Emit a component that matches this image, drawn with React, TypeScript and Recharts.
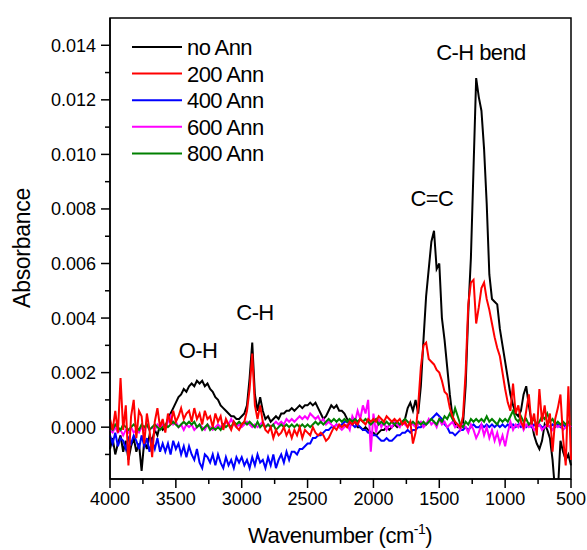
import React from 'react';
import { LineChart, Line, XAxis, YAxis, ReferenceArea } from 'recharts';

// wavenumber grid (cm-1), 4000 -> 500
const wavenumbers = [
  4000, 3980, 3960, 3940, 3920, 3900, 3880, 3860, 3840, 3820,
  3800, 3780, 3760, 3740, 3720, 3700, 3680, 3660, 3640, 3620,
  3600, 3580, 3560, 3540, 3520, 3500, 3480, 3460, 3440, 3420,
  3400, 3380, 3360, 3340, 3320, 3300, 3280, 3260, 3240, 3220,
  3200, 3180, 3160, 3140, 3120, 3100, 3080, 3060, 3040, 3020,
  3000, 2980, 2960, 2940, 2920, 2900, 2880, 2860, 2840, 2820,
  2800, 2780, 2760, 2740, 2720, 2700, 2680, 2660, 2640, 2620,
  2600, 2580, 2560, 2540, 2520, 2500, 2480, 2460, 2440, 2420,
  2400, 2380, 2360, 2340, 2320, 2300, 2280, 2260, 2240, 2220,
  2200, 2180, 2160, 2140, 2120, 2100, 2080, 2060, 2040, 2020,
  2000, 1980, 1960, 1940, 1920, 1900, 1880, 1860, 1840, 1820,
  1800, 1780, 1760, 1740, 1720, 1700, 1680, 1660, 1640, 1620,
  1600, 1580, 1560, 1540, 1520, 1500, 1480, 1460, 1440, 1420,
  1400, 1380, 1360, 1340, 1320, 1300, 1280, 1260, 1240, 1220,
  1200, 1180, 1160, 1140, 1120, 1100, 1080, 1060, 1040, 1020,
  1000, 980, 960, 940, 920, 900, 880, 860, 840, 820,
  800, 780, 760, 740, 720, 700, 680, 660, 640, 620,
  600, 580, 560, 540, 520, 500,
];

// absorbance in units of 1e-4
const noAnn = [
  -8, -4, -10, -6, -3, -9, -5, -12, -7, -4,
  -9, -6, -16, -5, -8, -3, -5, -1, -3, 1,
  -1, 0, 3, 5, 7, 9, 11, 12, 14, 13,
  15, 16, 15, 17, 16, 17, 15, 16, 14, 13,
  11, 10, 8, 7, 6, 5, 4, 4, 3, 3,
  4, 5, 8, 18, 31, 12, 6, 11, 6, 3,
  4, 2, 3, 4, 3, 5, 5, 6, 6, 7,
  6, 7, 8, 7, 8, 8, 9, 8, 9, 7,
  5, 3, 4, 6, 8, 7, 8, 6, 6, 5,
  3, 2, 3, 2, 0, 0, -1, 0, -1, -2,
  -2, -3, -2, -1, -1, 0, -1, 0, 1, 0,
  1, 2, 3, 7, 9, 6, 10, 5, 15, 32,
  48, 58, 68, 72, 58, 60, 40, 32, 22, 12,
  4, 1, 0, 0, 1, 15, 42, 62, 95, 128,
  121, 116, 102, 82, 56, 47, 46, 45, 36, 30,
  24, 18, 12, 8, 5, 4, 6, 12, 15, 8,
  2, -3, -6, -8, -5, 1, -1, -4, -12, -24,
  -24, -5, -9, -12, -10, -14,
];

const ann200 = [
  3, -1, 6, -2, 18, -1, 8, -14, 4, 10,
  -4, 6, 4, -6, 5, -1, -11, 2, 7, 0,
  3, -2, 5, 1, 6, 2, 4, 7, 3, 5,
  6, 2, 7, 3, 5, 1, 6, 3, 4, 0,
  5, 2, 4, -1, 3, 1, -1, 2, 0, -1,
  1, 2, 6, 14, 27, 8, 3, 8, 2, -1,
  -2, 0, -4, -1, -3, -2, 0, -3, -1, -4,
  -1, -3, 0, -4, -1, -2, -3, 0, -2, -3,
  -2, -3, -5, -4, -2, 0, -1, 1, 0, 1,
  0, 2, 1, 2, 1, 3, 2, 1, 3, 2,
  3, 2, 4, 3, 2, 4, 3, 2, 3, 2,
  3, 1, 2, 0, 2, -6, -2, 8, 22, 30,
  31, 25, 24, 23, 21, 20, 17, 13, 12, 7,
  4, 2, 1, 0, 4, 20, 45, 53, 54, 38,
  44, 51, 53, 47, 43, 38, 33, 29, 26, 20,
  14, 9, 6, 16, 5, 8, 2, 0, 6, 12,
  1, 5, -3, 14, 2, 8, 0, 5, -9, 3,
  7, 12, -4, -14, 15, -12,
];

const ann400 = [
  -3, -6, -2, -7, -4, -5, -8, -4, -6, -3,
  -5, -8, -3, -7, -4, -9, -5, -8, -4, -9,
  -6, -9, -6, -10, -5, -8, -6, -10, -7, -11,
  -7, -10, -12, -8, -13, -15, -10, -11, -13, -10,
  -14, -10, -13, -15, -11, -14, -12, -15, -11, -13,
  -11, -14, -12, -15, -11, -14, -10, -13, -12, -15,
  -11, -14, -10, -15, -12, -10, -13, -9, -12, -9,
  -9, -10, -8, -8, -7, -6, -6, -4, -4, -3,
  -3, -2, -1, -1, 0, 0, 1, 0, 1, 2,
  2, 1, 1, 0, 1, 0, -1, -1, -2, -2,
  -3, -3, -4, -5, -5, -4, -5, -5, -4, -3,
  -3, -2, -2, -1, -2, -1, -1, 0, 0, 1,
  1, 2, 3, 4, 5, 4, 3, 1, 0, -2,
  -2, -3, -2, -1, -1, 0, -1, 0, 1, 0,
  0, 1, 0, 1, 0, 1, 0, 1, 0, 1,
  0, 1, 0, 1, 0, 1, 0, 1, 0, 1,
  0, 1, 0, 1, 0, 0, 1, 0, 1, 0,
  1, 0, 1, 0, 1, 0,
];

const ann600 = [
  -1, -2, 0, -2, -1, -3, -1, -2, 0, -2,
  -1, -2, 0, -1, 1, -1, 0, -1, 1, 0,
  1, 0, 2, 4, 1, 2, 0, 1, -1, 1,
  0, 1, -1, 0, 1, 0, -1, 1, 0, -1,
  0, 1, 0, 1, 2, 1, 3, 1, 0, 1,
  0, 1, 2, 1, 0, 1, 0, 1, 2, 0,
  1, 0, 1, 2, 1, 2, 1, 3, 2, 3,
  2, 3, 4, 3, 4, 3, 5, 4, 3, 4,
  2, 3, 1, 2, 1, 0, 1, 0, -1, 0,
  1, -1, 4, 2, 6, 3, 8, 5, 10, -9,
  5, -2, 3, 0, 2, -1, 1, 0, 2, 1,
  0, 2, 1, 0, 2, 1, 0, 1, 2, 0,
  1, 3, 1, 2, 0, 3, 1, 2, 0, 1,
  2, 0, 1, -1, 1, 0, -2, 1, -1, -4,
  -2, 1, -3, 0, -4, -1, -5, -2, -6, -3,
  -7, -2, 2, -1, 1, 0, 2, -1, 1, 0,
  1, -1, 0, 1, -1, 0, 1, 0, -1, 1,
  0, 1, -1, 0, 1, 0,
];

const ann800 = [
  0, -1, 1, 0, -1, 1, 0, -1, 0, 1,
  0, -1, 1, 0, 1, -1, 0, 1, 0, -1,
  0, 1, 0, 1, 2, 1, 0, 1, 2, 1,
  2, 1, 2, 0, 1, -1, 0, 1, -1, 0,
  -1, 0, -1, 1, 0, 1, 0, 2, 1, 2,
  1, 2, 1, 2, 1, 0, 2, 0, 1, 0,
  1, 0, 1, -1, 0, 1, 0, 1, 0, 1,
  0, 1, 0, 1, 0, 1, 0, 1, 2, 1,
  2, 1, 2, 3, 2, 3, 2, 3, 2, 3,
  2, 3, 2, 3, 2, 3, 2, 3, 2, 1,
  2, 3, 1, 2, 1, 2, 1, 2, 1, 2,
  1, 2, 3, 2, 1, 2, 1, 2, 1, 2,
  1, 2, 3, 2, 1, 3, 2, 4, 3, 5,
  3, 7, 4, 1, 0, 2, 1, 3, 2, 3,
  2, 3, 2, 4, 2, 3, 2, 1, 3, 2,
  3, 2, 4, 6, 3, 2, 4, 2, 3, 1,
  2, 3, 1, 2, 4, 3, 5, 2, 3, 1,
  2, 1, 2, 1, 2, 1,
];

const seriesNames = ['no Ann', '200 Ann', '400 Ann', '600 Ann', '800 Ann'];
const seriesKeys = ['noAnn', 'ann200', 'ann400', 'ann600', 'ann800'];
const seriesColors = ['#000000', '#ff0000', '#0000ff', '#ff00ff', '#008000'];
const drawOrder = [0, 2, 3, 4, 1];

const xTicks = [4000, 3750, 3500, 3250, 3000, 2750, 2500, 2250, 2000, 1750, 1500, 1250, 1000, 750, 500];
const yTicks = [-0.001, 0, 0.001, 0.002, 0.003, 0.004, 0.005, 0.006, 0.007, 0.008, 0.009, 0.01, 0.011, 0.012, 0.013, 0.014];

const bandLabels = [
  { text: 'O-H', x: 198, y: 350 },
  { text: 'C-H', x: 255, y: 312 },
  { text: 'C=C', x: 432, y: 198 },
  { text: 'C-H bend', x: 481, y: 52 },
];

const data = wavenumbers.map((w, i) => ({
  w,
  noAnn: noAnn[i] / 10000,
  ann200: ann200[i] / 10000,
  ann400: ann400[i] / 10000,
  ann600: ann600[i] / 10000,
  ann800: ann800[i] / 10000,
}));

const FONT = '"Liberation Sans", Arial, sans-serif';

const XTick = (props: any) => {
  const { x, y, payload } = props;
  const major = payload.value % 500 === 0;
  return (
    <g>
      <line x1={x} x2={x} y1={y} y2={y + (major ? 9 : 5)} stroke="#000" strokeWidth={1.5} />
      {major && (
        <text x={x} y={y + 26} textAnchor="middle" fontSize={18} fontFamily={FONT} fill="#000">
          {payload.value}
        </text>
      )}
    </g>
  );
};

const YTick = (props: any) => {
  const { x, y, payload } = props;
  const k = Math.round(payload.value * 1000);
  const major = k % 2 === 0;
  return (
    <g>
      <line x1={x} x2={x - (major ? 9 : 5)} y1={y} y2={y} stroke="#000" strokeWidth={1.5} />
      {major && (
        <text x={x - 14} y={y} dy="0.36em" textAnchor="end" fontSize={18} fontFamily={FONT} fill="#000">
          {(k / 1000).toFixed(3)}
        </text>
      )}
    </g>
  );
};

export default function App() {
  return (
    <div style={{ position: 'absolute', left: 0, top: 0, width: 587, height: 550, background: '#fff' }}>
      <LineChart width={587} height={550} data={data} margin={{ top: 18, right: 16, left: 0, bottom: 0 }}>
        <XAxis
          dataKey="w"
          type="number"
          domain={[500, 4000]}
          reversed
          ticks={xTicks}
          interval={0}
          tickSize={0}
          tickMargin={0}
          tick={<XTick />}
          tickLine={false}
          axisLine={{ stroke: '#000', strokeWidth: 1.5 }}
          height={71}
        />
        <YAxis
          type="number"
          domain={[-0.0019, 0.015]}
          allowDataOverflow
          ticks={yTicks}
          interval={0}
          tickSize={0}
          tickMargin={0}
          tick={<YTick />}
          tickLine={false}
          axisLine={{ stroke: '#000', strokeWidth: 1.5 }}
          width={110}
        />
        <ReferenceArea x1={4000} x2={500} y1={-0.0019} y2={0.015} fill="none" stroke="#000" strokeWidth={1.5} />
        {drawOrder.map((i) => (
          <Line
            key={seriesKeys[i]}
            dataKey={seriesKeys[i]}
            name={seriesNames[i]}
            stroke={seriesColors[i]}
            strokeWidth={2}
            dot={false}
            type="linear"
            isAnimationActive={false}
          />
        ))}
      </LineChart>
      <svg width={587} height={550} style={{ position: 'absolute', left: 0, top: 0, pointerEvents: 'none' }}>
        <g fontFamily={FONT} fill="#000">
          {seriesNames.map((n, i) => (
            <g key={n}>
              <line x1={132} x2={182} y1={47 + i * 26.6} y2={47 + i * 26.6} stroke={seriesColors[i]} strokeWidth={2} />
              <text x={187} y={47 + i * 26.6} dy="0.36em" fontSize={22} letterSpacing={-0.6}>
                {n}
              </text>
            </g>
          ))}
          {bandLabels.map((b) => (
            <text key={b.text} x={b.x} y={b.y} dy="0.36em" textAnchor="middle" fontSize={22} letterSpacing={-0.6}>
              {b.text}
            </text>
          ))}
          <text
            x={22}
            y={248}
            transform="rotate(-90 22 248)"
            textAnchor="middle"
            dy="0.36em"
            fontSize={23}
            letterSpacing={-0.3}
          >
            Absorbance
          </text>
          <text x={340} y={543} textAnchor="middle" fontSize={22} letterSpacing={-0.5}>
            Wavenumber (cm
            <tspan fontSize={14} dy={-9}>-1</tspan>
            <tspan dy={9}>)</tspan>
          </text>
        </g>
      </svg>
    </div>
  );
}
